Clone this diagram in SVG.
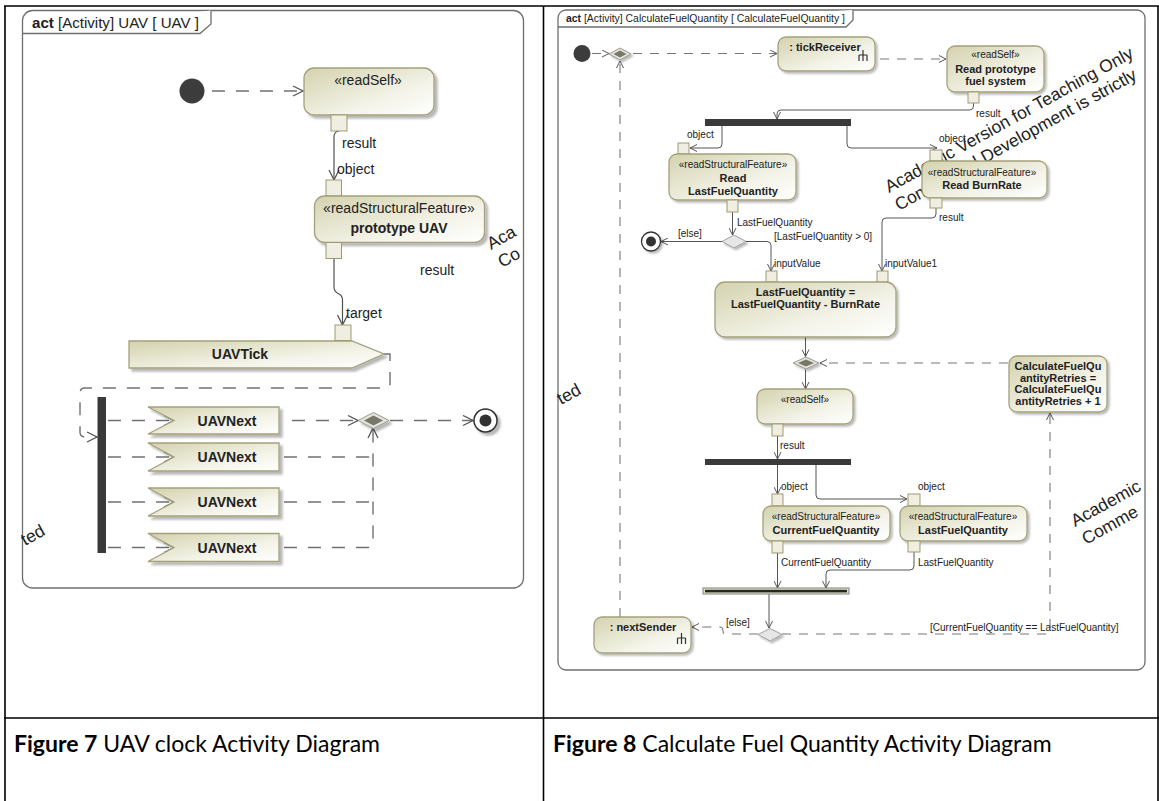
<svg xmlns="http://www.w3.org/2000/svg" width="1159" height="801" viewBox="0 0 1159 801">
<style>
.tbl{fill:none;stroke:#000;stroke-width:1.6}
.frm{fill:#fff;stroke:#6e6e6e;stroke-width:1.3}
.nd{fill:url(#grad);stroke:#a4a17a;stroke-width:1.3}
.pin{fill:#efeee0;stroke:#9e9b74;stroke-width:1}
.bar{fill:#3a3a3a}
.cf{fill:none;stroke:#707070;stroke-width:1.4;stroke-dasharray:13 11}
.cfr{fill:none;stroke:#777;stroke-width:1.1;stroke-dasharray:9 8}
.of{fill:none;stroke:#505050;stroke-width:1.2}
.ofr{fill:none;stroke:#555;stroke-width:1}
.rake{fill:none;stroke:#333;stroke-width:1.2}
text{font-family:"Liberation Sans",Arial,sans-serif;fill:#222}
.t14{font-size:14px}
.b14{font-size:14px;font-weight:bold}
.t10{font-size:10px}
.b11{font-size:11px;font-weight:bold}
.mid{text-anchor:middle}
.wm{font-size:17.5px;fill:#e4e4e4}
.cap{font-family:Lato,"Liberation Sans",sans-serif;font-size:23px;fill:#000}
</style>
<defs>
  <linearGradient id="grad" x1="0" y1="0" x2="1" y2="1">
    <stop offset="0" stop-color="#d4d2ae"/>
    <stop offset="0.65" stop-color="#f4f4ea"/>
    <stop offset="1" stop-color="#ffffff"/>
  </linearGradient>
  <filter id="sh" x="-10%" y="-10%" width="130%" height="150%">
    <feDropShadow dx="3" dy="3" stdDeviation="1.2" flood-color="#000" flood-opacity="0.28"/>
  </filter>
  <filter id="shs" x="-10%" y="-10%" width="130%" height="150%">
    <feDropShadow dx="2" dy="2" stdDeviation="1" flood-color="#000" flood-opacity="0.28"/>
  </filter>
  <marker id="arrL" viewBox="0 0 12 12" markerWidth="12" markerHeight="12" refX="11" refY="6" orient="auto" markerUnits="userSpaceOnUse">
    <path d="M1,1 L11,6 L1,11" fill="none" stroke="#555" stroke-width="1.3"/>
  </marker>
  <marker id="arrR" viewBox="0 0 8 8" markerWidth="8" markerHeight="8" refX="7.5" refY="4" orient="auto" markerUnits="userSpaceOnUse">
    <path d="M0.5,0.5 L7.5,4 L0.5,7.5" fill="none" stroke="#555" stroke-width="1"/>
  </marker>
</defs>

<rect width="1159" height="801" fill="#fff"/>

<!-- table rules -->
<g id="table">
  <path class="tbl" d="M4,6 H1159 M5,6 V801 M543.5,6 V801 M1158,6 V801 M4,718 H1159"/>
</g>

<!-- ===== left activity: UAV ===== -->
<g id="frameL">
  <rect class="frm" x="22.5" y="10.5" width="501" height="577.5" rx="10"/>
  <path class="frm" d="M22.5,33.5 H200 L211,24 V10.5" fill="none"/>
  <text x="32" y="28" class="t14" textLength="167" lengthAdjust="spacingAndGlyphs"><tspan font-weight="bold">act</tspan> [Activity] UAV [ UAV ]</text>
</g>
<!-- evaluation-licence watermark fragments -->
<g id="watermarkL" class="wm">
  <text transform="translate(491,250) rotate(-29)">Aca</text>
  <text transform="translate(502,268) rotate(-29)">Co</text>
  <text transform="translate(25,546) rotate(-29)">ted</text>
</g>

<g id="connectorsL">
  <path class="cf" d="M212,91 H303" marker-end="url(#arrL)"/>
  <path class="of" d="M339,131 Q334,131.5 334,137 V180" marker-end="url(#arrL)"/>
  <path class="of" d="M334,258.5 V287 C334,296 342.5,291 342.5,300 V325" marker-end="url(#arrL)"/>
  <path class="cf" d="M384,354 H390 V383 Q390,388 385,388 H85 Q80,388 80,393 V432 Q80,437 85,437 H97" marker-end="url(#arrL)"/>
  <path class="cf" d="M108,420.5 H174" marker-end="url(#arrL)"/>
  <path class="cf" d="M108,457 H174" marker-end="url(#arrL)"/>
  <path class="cf" d="M108,502 H174" marker-end="url(#arrL)"/>
  <path class="cf" d="M108,547.5 H174" marker-end="url(#arrL)"/>
  <path class="cf" d="M292,420.5 H358" marker-end="url(#arrL)"/>
  <path class="cf" d="M284,457 H368 Q373,457 373,462"/>
  <path class="cf" d="M284,502 H372"/>
  <path class="cf" d="M284,547.5 H368 Q373,547.5 373,542.5 V428" marker-end="url(#arrL)"/>
  <path class="cf" d="M390,420.5 H473" marker-end="url(#arrL)"/>
  <text x="342" y="148" class="t14">result</text>
  <text x="337" y="174" class="t14">object</text>
  <text x="420" y="275" class="t14">result</text>
  <text x="346" y="318" class="t14">target</text>
</g>

<g id="initialL"><circle cx="192" cy="91" r="12.5" fill="#3c3c3c"/></g>

<g id="readSelfL">
  <rect class="nd" x="304" y="68" width="130" height="47" rx="10" filter="url(#sh)"/>
  <text x="368" y="85" class="t14 mid">«readSelf»</text>
  <rect class="pin" x="331" y="115" width="16" height="16"/>
</g>

<g id="prototypeUAV">
  <rect class="pin" x="326" y="180" width="15.5" height="16"/>
  <rect class="nd" x="314.5" y="196" width="170" height="46.5" rx="10" filter="url(#sh)"/>
  <text x="399" y="213" class="t14 mid">«readStructuralFeature»</text>
  <text x="399" y="233" class="b14 mid">prototype UAV</text>
  <rect class="pin" x="326" y="242.5" width="15.5" height="16"/>
</g>

<g id="uavTick">
  <polygon class="nd" points="129,341 352,341 384,354 352,368 129,368" filter="url(#sh)"/>
  <rect class="pin" x="335" y="325" width="16" height="15.5"/>
  <text x="240" y="359" class="b14 mid">UAVTick</text>
</g>

<g id="forkL"><rect class="bar" x="97.5" y="397" width="8.5" height="156"/></g>

<g id="uavNext1">
  <polygon class="nd" points="148,407 279,407 279,434 148,434 174,420.5" filter="url(#sh)"/>
  <text x="227" y="425.5" class="b14 mid">UAVNext</text>
</g>
<g id="uavNext2">
  <polygon class="nd" points="148,443 279,443 279,471 148,471 174,457" filter="url(#sh)"/>
  <text x="227" y="462" class="b14 mid">UAVNext</text>
</g>
<g id="uavNext3">
  <polygon class="nd" points="148,488 279,488 279,516 148,516 174,502" filter="url(#sh)"/>
  <text x="227" y="507" class="b14 mid">UAVNext</text>
</g>
<g id="uavNext4">
  <polygon class="nd" points="148,533.5 279,533.5 279,561.5 148,561.5 174,547.5" filter="url(#sh)"/>
  <text x="227" y="552.5" class="b14 mid">UAVNext</text>
</g>

<g id="mergeL" filter="url(#sh)">
  <polygon points="358,420.5 373.5,412.5 389,420.5 373.5,428.5" fill="#e4e4dc" stroke="#9a9a90"/>
  <polygon points="364,420.5 373.5,415.5 383,420.5 373.5,425.5" fill="#77776a"/>
</g>

<g id="finalL" filter="url(#sh)">
  <circle cx="485.5" cy="420.5" r="11.5" fill="#fff" stroke="#333" stroke-width="1.5"/>
  <circle cx="485.5" cy="420.5" r="6" fill="#333"/>
</g>

<!-- ===== right activity: CalculateFuelQuantity ===== -->
<g id="frameR">
  <rect class="frm" x="558" y="10" width="587" height="660" rx="8"/>
  <path class="frm" d="M558,27 H846 L853,20 V10" fill="none"/>
  <text x="566" y="22" class="t10" textLength="279" lengthAdjust="spacingAndGlyphs"><tspan font-weight="bold">act</tspan> [Activity] CalculateFuelQuantity [ CalculateFuelQuantity ]</text>
</g>
<g id="watermarkR" class="wm">
  <text transform="translate(889,193) rotate(-29)">Academic Version for Teaching Only</text>
  <text transform="translate(899,211) rotate(-29)">Commercial Development is strictly</text>
  <text transform="translate(1075,527) rotate(-29)">Academic</text>
  <text transform="translate(1086,545) rotate(-29)">Comme</text>
  <text transform="translate(561,405) rotate(-29)">ted</text>
</g>

<g id="connectorsR">
  <path class="cfr" d="M592,53.5 H609" marker-end="url(#arrR)"/>
  <path class="cfr" d="M633,53.5 H777" marker-end="url(#arrR)"/>
  <path class="cfr" d="M880,59 H946" marker-end="url(#arrR)"/>
  <path class="cfr" d="M620,617 V61" marker-end="url(#arrR)"/>
  <path class="ofr" d="M973.5,103 V106 Q973.5,110 969.5,110 H781 Q777,110 777,114 V119" marker-end="url(#arrR)"/>
  <path class="ofr" d="M722,126 V144 Q722,148 718,148 H690" marker-end="url(#arrR)"/>
  <path class="ofr" d="M847,126 V144 Q847,148 851,148 H937" marker-end="url(#arrR)"/>
  <path class="ofr" d="M732.5,212 V235" marker-end="url(#arrR)"/>
  <path class="ofr" d="M722,241.5 H661" marker-end="url(#arrR)"/>
  <path class="ofr" d="M746,241.5 H767 Q771,241.5 771,245.5 V271" marker-end="url(#arrR)"/>
  <path class="ofr" d="M936,208 V214 Q936,218 932,218 H886 Q882,218 882,222 V271" marker-end="url(#arrR)"/>
  <path class="ofr" d="M805.5,337 V356.5" marker-end="url(#arrR)"/>
  <path class="cfr" d="M1008,363 H820" marker-end="url(#arrR)"/>
  <path class="ofr" d="M805.5,369.5 V389" marker-end="url(#arrR)"/>
  <path class="ofr" d="M777.5,436 V459" marker-end="url(#arrR)"/>
  <path class="ofr" d="M777.5,465 V494" marker-end="url(#arrR)"/>
  <path class="ofr" d="M816,465 V495 Q816,499 820,499 H907" marker-end="url(#arrR)"/>
  <path class="ofr" d="M777.5,553 V588" marker-end="url(#arrR)"/>
  <path class="ofr" d="M914,552 V566 Q914,570 910,570 H830 Q826,570 826,574 V588" marker-end="url(#arrR)"/>
  <path class="ofr" d="M769,594 V628" marker-end="url(#arrR)"/>
  <path class="cfr" d="M758,634 H726 Q723,634 723,631 Q723,627 720,627 H692" marker-end="url(#arrR)"/>
  <path class="cfr" d="M782,634 H1045 Q1050,634 1050,629 V413" marker-end="url(#arrR)"/>
  <text x="976" y="117" class="t10">result</text>
  <text x="687" y="138" class="t10">object</text>
  <text x="939" y="142" class="t10">object</text>
  <text x="737" y="226" class="t10">LastFuelQuantity</text>
  <text x="678" y="237" class="t10">[else]</text>
  <text x="774" y="240" class="t10">[LastFuelQuantity &gt; 0]</text>
  <text x="939" y="221" class="t10">result</text>
  <text x="774" y="267" class="t10">inputValue</text>
  <text x="885" y="267" class="t10">inputValue1</text>
  <text x="780" y="449" class="t10">result</text>
  <text x="781" y="490" class="t10">object</text>
  <text x="918" y="490" class="t10">object</text>
  <text x="781" y="566" class="t10">CurrentFuelQuantity</text>
  <text x="918" y="566" class="t10">LastFuelQuantity</text>
  <text x="726" y="626" class="t10">[else]</text>
  <text x="930" y="631" class="t10">[CurrentFuelQuantity == LastFuelQuantity]</text>
</g>

<g id="initialR"><circle cx="582" cy="53.5" r="8.5" fill="#3c3c3c"/></g>

<g id="mergeTop" filter="url(#shs)">
  <polygon points="609,54 620,48 631,54 620,60" fill="#e4e4dc" stroke="#9a9a90"/>
  <polygon points="613.5,54 620,50.5 626.5,54 620,57.5" fill="#77776a"/>
</g>

<g id="tickReceiver">
  <rect class="nd" x="778" y="37" width="97" height="34" rx="8" filter="url(#shs)"/>
  <text x="825" y="51" class="b11 mid">: tickReceiver</text>
  <path class="rake" d="M863,50 V61 M859,55 H867 M859,55 V61 M867,55 V61"/>
</g>

<g id="readPrototypeFuelSystem">
  <rect class="nd" x="947" y="46" width="97" height="46" rx="8" filter="url(#shs)"/>
  <text x="995.5" y="58" class="t10 mid">«readSelf»</text>
  <text x="995.5" y="73" class="b11 mid">Read prototype</text>
  <text x="995.5" y="85" class="b11 mid">fuel system</text>
  <rect class="pin" x="968" y="92" width="11" height="11"/>
</g>

<g id="fork1"><rect class="bar" x="705" y="119" width="146" height="7"/></g>

<g id="readLastFuelQuantity">
  <rect class="pin" x="678" y="143" width="11" height="11"/>
  <rect class="nd" x="669" y="154" width="127" height="46" rx="8" filter="url(#shs)"/>
  <text x="733" y="168" class="t10 mid">«readStructuralFeature»</text>
  <text x="733" y="182" class="b11 mid">Read</text>
  <text x="733" y="195" class="b11 mid">LastFuelQuantity</text>
  <rect class="pin" x="727" y="200" width="11" height="12"/>
</g>

<g id="readBurnRate">
  <rect class="pin" x="930" y="150" width="12" height="11"/>
  <rect class="nd" x="922" y="161" width="125" height="37" rx="8" filter="url(#shs)"/>
  <text x="982" y="175.5" class="t10 mid">«readStructuralFeature»</text>
  <text x="982" y="189" class="b11 mid">Read BurnRate</text>
  <rect class="pin" x="930" y="198" width="12" height="10"/>
</g>

<g id="decisionTop" filter="url(#shs)">
  <polygon points="722,241.5 734,235 746,241.5 734,248" fill="#e6e6e6" stroke="#a0a0a0"/>
</g>

<g id="finalR" filter="url(#shs)">
  <circle cx="651" cy="241.5" r="9.5" fill="#fff" stroke="#333" stroke-width="1.3"/>
  <circle cx="651" cy="241.5" r="5" fill="#333"/>
</g>

<g id="subtractBurnRate">
  <rect class="pin" x="766" y="271" width="11" height="11"/>
  <rect class="pin" x="877" y="271" width="11" height="11"/>
  <rect class="nd" x="715" y="282" width="181" height="55" rx="10" filter="url(#shs)"/>
  <text x="805.5" y="296" class="b11 mid">LastFuelQuantity =</text>
  <text x="805.5" y="308" class="b11 mid">LastFuelQuantity - BurnRate</text>
</g>

<g id="mergeMid" filter="url(#shs)">
  <polygon points="793,363 806,357 819,363 806,369" fill="#e4e4dc" stroke="#9a9a90"/>
  <polygon points="798,363 806,359.5 814,363 806,366.5" fill="#77776a"/>
</g>

<g id="incrementRetries">
  <rect class="nd" x="1009" y="356" width="98" height="56" rx="8" filter="url(#shs)"/>
  <text x="1058" y="370" class="b11 mid">CalculateFuelQu</text>
  <text x="1058" y="381.5" class="b11 mid">antityRetries =</text>
  <text x="1058" y="393" class="b11 mid">CalculateFuelQu</text>
  <text x="1058" y="405" class="b11 mid">antityRetries + 1</text>
</g>

<g id="readSelfR">
  <rect class="nd" x="757" y="389" width="96" height="35" rx="8" filter="url(#shs)"/>
  <text x="805" y="403" class="t10 mid">«readSelf»</text>
  <rect class="pin" x="772" y="424" width="11" height="12"/>
</g>

<g id="fork2"><rect class="bar" x="705" y="459" width="146" height="6"/></g>

<g id="currentFuelQuantity">
  <rect class="pin" x="772" y="494" width="11" height="12"/>
  <rect class="nd" x="763" y="506" width="127" height="35" rx="8" filter="url(#shs)"/>
  <text x="826" y="519.5" class="t10 mid">«readStructuralFeature»</text>
  <text x="826" y="533.5" class="b11 mid">CurrentFuelQuantity</text>
  <rect class="pin" x="772" y="541" width="11" height="12"/>
</g>

<g id="lastFuelQuantity">
  <rect class="pin" x="908" y="494" width="12" height="12"/>
  <rect class="nd" x="900" y="506" width="127" height="35" rx="8" filter="url(#shs)"/>
  <text x="963" y="519.5" class="t10 mid">«readStructuralFeature»</text>
  <text x="963" y="533.5" class="b11 mid">LastFuelQuantity</text>
  <rect class="pin" x="908" y="541" width="12" height="11"/>
</g>

<g id="join">
  <rect x="703" y="588" width="146" height="6" fill="#e2e2c4" stroke="#808080" stroke-width="1"/>
  <rect x="705" y="589.8" width="142" height="2.6" fill="#262626"/>
</g>

<g id="decisionBottom" filter="url(#shs)">
  <polygon points="758,634.5 770,628.5 782,634.5 770,641" fill="#e6e6e6" stroke="#a0a0a0"/>
</g>

<g id="nextSender">
  <rect class="nd" x="594" y="617" width="97" height="36" rx="8" filter="url(#shs)"/>
  <text x="643" y="631" class="b11 mid">: nextSender</text>
  <path class="rake" d="M681.5,633 V644 M677.5,638 H685.5 M677.5,638 V644 M685.5,638 V644"/>
</g>

<!-- captions -->
<g id="captions">
  <text x="14" y="752" class="cap"><tspan font-weight="bold">Figure 7</tspan> UAV clock Activity Diagram</text>
  <text x="553" y="752" class="cap"><tspan font-weight="bold">Figure 8</tspan> Calculate Fuel Quantity Activity Diagram</text>
</g>
</svg>
